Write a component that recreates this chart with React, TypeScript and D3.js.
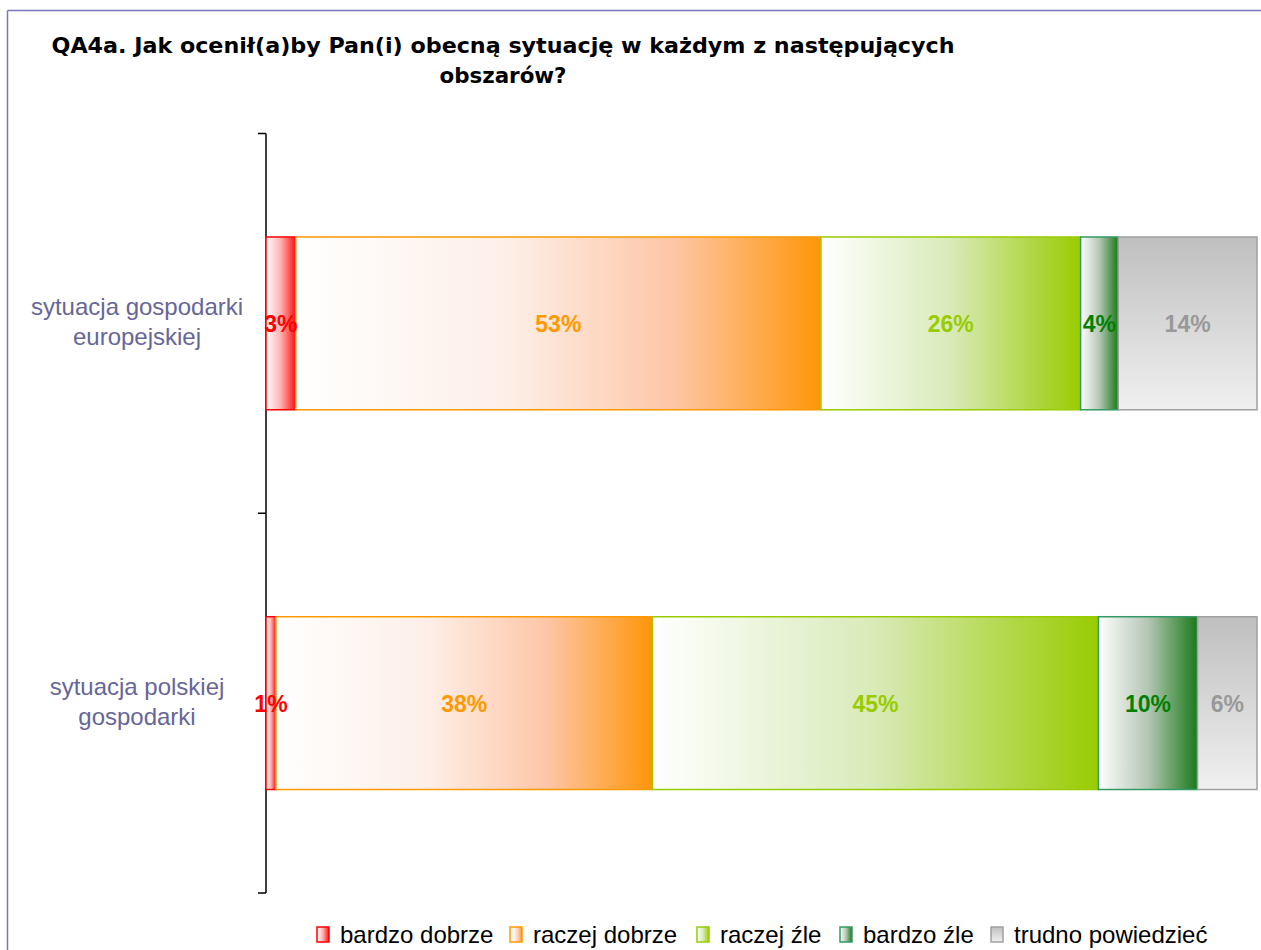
import React from "react";
import * as d3 from "d3";

const categories = ["sytuacja gospodarki europejskiej", "sytuacja polskiej gospodarki"];
const categoryLines = [
  ["sytuacja gospodarki", "europejskiej"],
  ["sytuacja polskiej", "gospodarki"],
];
const seriesNames = ["bardzo dobrze", "raczej dobrze", "raczej źle", "bardzo źle", "trudno powiedzieć"];
const bardzoDobrze = [3, 1];
const raczejDobrze = [53, 38];
const raczejZle = [26.2, 45];
const bardzoZle = [3.8, 10];
const trudnoPowiedziec = [14, 6];
const seriesValues = [bardzoDobrze, raczejDobrze, raczejZle, bardzoZle, trudnoPowiedziec];
const titleLines = [
  "QA4a. Jak ocenił(a)by Pan(i) obecną sytuację w każdym z następujących",
  "obszarów?",
];

const strokeColors = ["#FF0000", "#FF9900", "#99CC00", "#339966", "#A0A0A0"];
const labelColors = ["#FF0000", "#FF9900", "#99CC00", "#008000", "#999999"];
const gradStops: [number, string][][] = [
  [[0, "#ffffff"], [0.5, "#ffb0b0"], [1, "#ff1010"]],
  [[0, "#ffffff"], [0.4, "#fdefe8"], [0.72, "#fdc6a6"], [1, "#ff9508"]],
  [[0, "#ffffff"], [0.5, "#d8eab8"], [1, "#99cc00"]],
  [[0, "#ffffff"], [0.5, "#b4c6b4"], [1, "#1a7a1a"]],
  [[0, "#bfbfbf"], [1, "#f0f0f0"]],
];

export default function App() {
  const W = 1261, H = 950;
  const x = d3.scaleLinear().domain([0, 100]).range([266, 1257]);
  const y = d3.scaleBand<string>().domain(categories).range([133.5, 893]).paddingInner(0.545).paddingOuter(0.2725);
  const bw = y.bandwidth();
  const font = "'Liberation Sans', Arial, sans-serif";
  const titleFont = "'DejaVu Sans Condensed', 'DejaVu Sans', Verdana, sans-serif";

  const legendX = [316, 509, 696, 839, 990];

  return (
    <svg width={W} height={H} style={{ position: "absolute", left: 0, top: 0, background: "#fff" }}>
      <defs>
        {gradStops.map((stops, i) => (
          <linearGradient key={i} id={`g${i}`} x1="0" y1="0" x2={i === 4 ? "0" : "1"} y2={i === 4 ? "1" : "0"}>
            {stops.map(([o, c], j) => (
              <stop key={j} offset={o} stopColor={c} />
            ))}
          </linearGradient>
        ))}
      </defs>
      <rect x={0} y={0} width={W} height={H} fill="#fff" />
      {/* frame */}
      <line x1={7.5} y1={10.5} x2={W} y2={10.5} stroke="#7777bb" strokeWidth={1.5} />
      <line x1={7.5} y1={10.5} x2={7.5} y2={H} stroke="#7777bb" strokeWidth={1.5} />

      {/* title */}
      <text x={503} y={53} textAnchor="middle" fontFamily={titleFont} fontWeight="bold" fontSize={21}
        textLength={903} lengthAdjust="spacingAndGlyphs">{titleLines[0]}</text>
      <text x={503} y={83} textAnchor="middle" fontFamily={titleFont} fontWeight="bold" fontSize={21}
        textLength={127} lengthAdjust="spacingAndGlyphs">{titleLines[1]}</text>

      {/* axis */}
      <line x1={266} y1={133.5} x2={266} y2={893} stroke="#000" strokeWidth={1.5} />
      {[133.5, 133.5 + y.step(), 893].map((t, i) => (
        <line key={i} x1={258} y1={t} x2={266} y2={t} stroke="#000" strokeWidth={1.5} />
      ))}

      {/* bars */}
      {categories.map((c, ci) => {
        let acc = 0;
        const y0 = y(c)!;
        return (
          <g key={c}>
            {seriesValues.map((vals, si) => {
              const v = vals[ci];
              const x0 = x(acc);
              acc += v;
              const x1 = x(acc);
              return (
                <rect key={si} x={x0} y={y0} width={x1 - x0} height={bw} fill={`url(#g${si})`} stroke={strokeColors[si]} strokeWidth={1.5} />
              );
            })}
          </g>
        );
      })}
      {categories.map((c, ci) => {
        let acc = 0;
        const cy = y(c)! + bw / 2;
        return (
          <g key={c + "l"}>
            {seriesValues.map((vals, si) => {
              const v = vals[ci];
              const mid = x(acc + v / 2);
              acc += v;
              return (
                <text key={si} x={mid} y={cy + 9} textAnchor="middle" fontFamily={font} fontWeight="bold" fontSize={23} fill={labelColors[si]}>
                  {Math.round(v)}%
                </text>
              );
            })}
            {categoryLines[ci].map((ln, li) => (
              <text key={li} x={137} y={cy - 8 + li * 30} textAnchor="middle" fontFamily={font} fontSize={24} fill="#666699">
                {ln}
              </text>
            ))}
          </g>
        );
      })}

      {/* legend */}
      {seriesNames.map((n, i) => (
        <g key={n}>
          <rect x={legendX[i] + 1} y={927} width={12} height={15} fill={`url(#g${i})`} stroke={strokeColors[i]} strokeWidth={1.5} />
          <text x={legendX[i] + 24} y={943} fontFamily={font} fontSize={24} fill="#000">{n}</text>
        </g>
      ))}
    </svg>
  );
}
